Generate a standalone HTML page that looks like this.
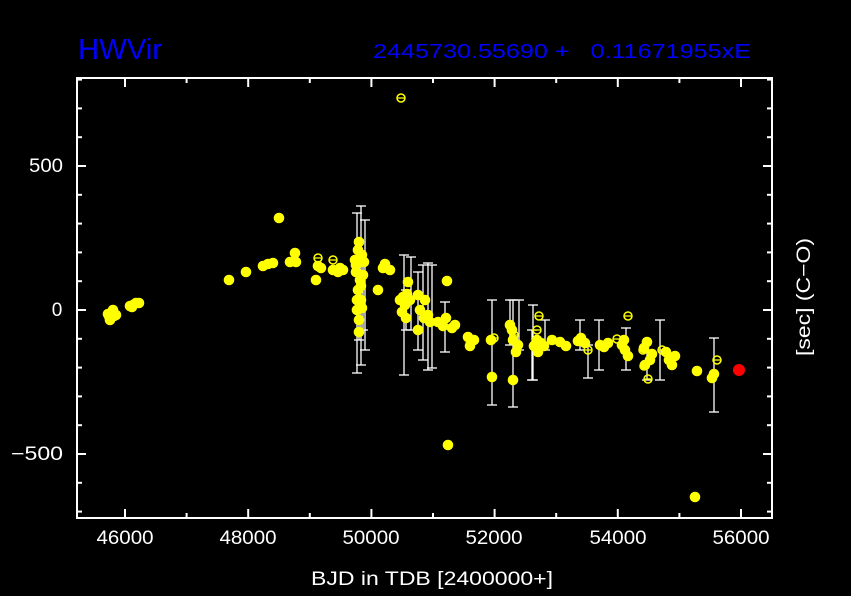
<!DOCTYPE html>
<html><head><meta charset="utf-8"><style>
html,body{margin:0;padding:0;background:#000;}
svg{display:block;}
text{font-family:"Liberation Sans",sans-serif;}
</style></head><body>
<svg id="s" width="851" height="596" viewBox="0 0 851 596" xmlns="http://www.w3.org/2000/svg">
<rect width="851" height="596" fill="#000"/>
<text x="78" y="59" fill="#0000ff" font-size="29" textLength="84" lengthAdjust="spacingAndGlyphs">HWVir</text>
<text x="373" y="58" fill="#0000ff" font-size="20" textLength="378" lengthAdjust="spacingAndGlyphs" xml:space="preserve">2445730.55690 +   0.11671955xE</text>
<g id="ax" stroke="#fff" stroke-width="2" fill="none">
<rect x="77" y="78" width="695" height="440"/>
</g>
<g fill="#fff" font-size="19" text-anchor="middle">
<text x="125" y="544" textLength="57" lengthAdjust="spacingAndGlyphs">46000</text>
<text x="248" y="544" textLength="57" lengthAdjust="spacingAndGlyphs">48000</text>
<text x="371" y="544" textLength="57" lengthAdjust="spacingAndGlyphs">50000</text>
<text x="494" y="544" textLength="57" lengthAdjust="spacingAndGlyphs">52000</text>
<text x="618" y="544" textLength="57" lengthAdjust="spacingAndGlyphs">54000</text>
<text x="741" y="544" textLength="57" lengthAdjust="spacingAndGlyphs">56000</text>
<text x="432" y="585" textLength="242" lengthAdjust="spacingAndGlyphs">BJD in TDB [2400000+]</text>
<text x="46" y="172" textLength="34" lengthAdjust="spacingAndGlyphs">500</text>
<text x="57" y="316">0</text>
<text x="37" y="460" textLength="52" lengthAdjust="spacingAndGlyphs">−500</text>
<text transform="translate(810,297) rotate(-90)" font-size="19" textLength="118" lengthAdjust="spacingAndGlyphs">[sec] (C−O)</text>
</g>
<g id="eb" stroke="#fff" stroke-width="1.3"></g>
<g id="pts"></g>
</svg>
<script>
var ax=document.getElementById('ax'),ns='http://www.w3.org/2000/svg';
function el(p,t,a){var e=document.createElementNS(ns,t);for(var k in a)e.setAttribute(k,a[k]);p.appendChild(e);return e;}
function X(d){return 125+(d-46000)*0.0616;}function Y(v){return 310-v*0.288;}
for(var d=45000;d<=57000;d+=500){var x=X(d);if(x<78||x>771)continue;var L=d%2000==0?9:(d%1000==0?5:0);if(!L)continue;
el(ax,'line',{x1:x,y1:518,x2:x,y2:518-L});el(ax,'line',{x1:x,y1:78,x2:x,y2:78+L});}
for(var v=-700;v<=800;v+=100){var y=Y(v);if(y<79||y>517)continue;var L=v%500==0?9:5;
el(ax,'line',{x1:77,y1:y,x2:77+L,y2:y});el(ax,'line',{x1:772,y1:y,x2:772-L,y2:y});}
var eb=document.getElementById('eb');
var E=[[357,213,373],[361,206,365],[365,220,350],[359,240,340],[363,260,330],[404,255,375],[406,290,330],[411,257,330],[418,272,350],[423,265,360],[428,263,370],[432,265,368],[445,302,352],[492,300,405],[510,300,345],[513,300,407],[519,300,350],[532,330,380],[545,320,350],[533,305,380],[580,320,350],[588,345,378],[599,320,370],[626,328,370],[647,350,380],[660,320,380],[714,338,412]];
E.forEach(function(e){el(eb,'line',{x1:e[0],y1:e[1],x2:e[0],y2:e[2]});el(eb,'line',{x1:e[0]-5,y1:e[1],x2:e[0]+5,y2:e[1]});el(eb,'line',{x1:e[0]-5,y1:e[2],x2:e[0]+5,y2:e[2]});});
var pts=document.getElementById('pts');
var F=[[108,314],[110,318],[112,312],[114,316],[110,320],[113,310],[116,315],[109,316],[130,306],[133,305],[136,303],[139,303],[132,307],[229,280],[246,272],[263,266],[268,264],[273,263],[279,218],[290,262],[295,253],[296,262],[316,280],[318,266],[321,268],[333,270],[338,272],[343,270],[340,268],
[355,260],[358,250],[359,242],[362,255],[356,272],[360,280],[358,290],[361,300],[357,310],[359,320],[361,286],[363,275],[359,332],[356,265],[364,262],[362,308],[357,300],
[378,290],[385,264],[390,270],[383,268],[400,300],[403,297],[405,305],[407,294],[402,312],[408,282],[406,318],[410,300],[418,295],[418,330],[420,310],[425,300],[428,315],[430,322],[424,318],[438,322],[443,326],[447,281],[448,445],[452,328],[455,325],[446,318],
[468,337],[471,342],[474,340],[470,346],[492,377],[491,340],[510,325],[513,340],[513,380],[518,345],[516,352],[512,330],[534,346],[537,340],[541,343],[538,352],[544,346],[552,340],[560,342],[566,346],[578,341],[581,338],[585,343],[600,345],[604,347],[608,343],[622,345],[625,350],[628,356],[624,340],[644,348],[647,342],[650,360],[645,365],[652,354],[666,352],[669,360],[672,365],[675,356],[697,371],[695,497],[712,378],[714,374]];
F.forEach(function(p){el(pts,'circle',{cx:p[0],cy:p[1],r:5.3,fill:'#ffff00'});});
var O=[[401,98],[318,258],[333,260],[494,338],[514,335],[539,316],[537,330],[552,340],[588,350],[628,316],[617,339],[648,379],[644,366],[662,350],[717,360],[643,350]];
O.forEach(function(p){el(pts,'circle',{cx:p[0],cy:p[1],r:4,fill:'none',stroke:'#ffff00','stroke-width':1.5});el(pts,'line',{x1:p[0]-3.5,y1:p[1],x2:p[0]+3.5,y2:p[1],stroke:'#ffff00','stroke-width':1.3});});
el(pts,'circle',{cx:739,cy:370,r:6,fill:'#ff0000'});
</script>
</body></html>
